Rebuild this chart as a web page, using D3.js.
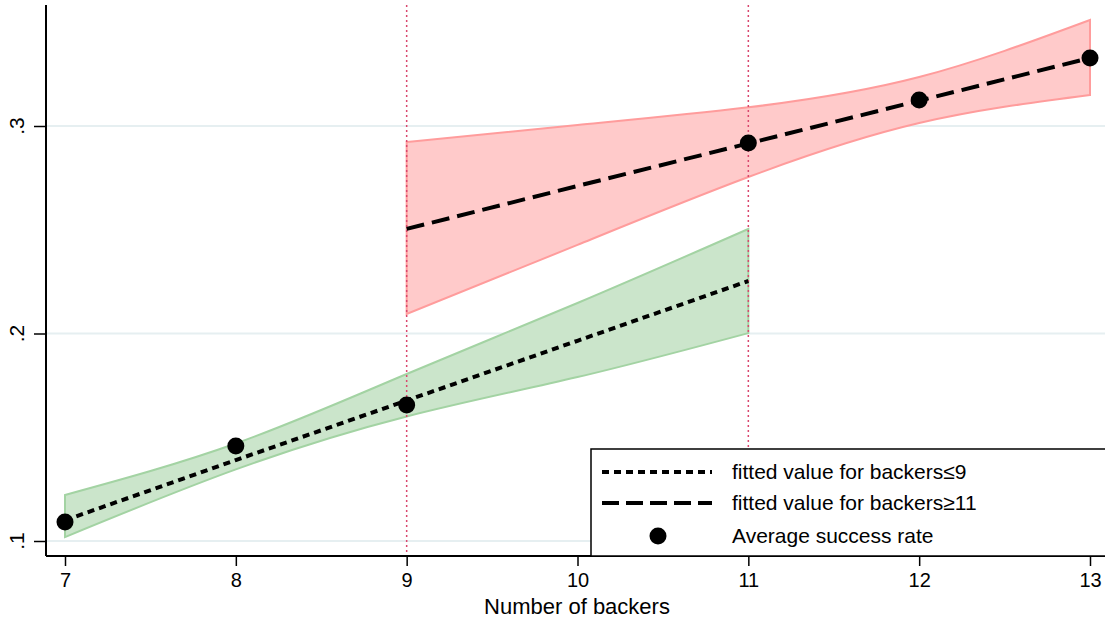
<!DOCTYPE html>
<html>
<head>
<meta charset="utf-8">
<script src="https://cdn.jsdelivr.net/npm/d3@7"></script>
<style>
  body { margin: 0; background: #fff; }
  svg { display: block; font-family: "Liberation Sans", Arial, sans-serif; }
</style>
</head>
<body>
<div id="chart"></div>
<script>
// average success rate by number of backers
const pointX = [7, 8, 9, 11, 12, 13]
const pointY = [0.1092, 0.1458, 0.1655, 0.2918, 0.3125, 0.3328]

// fit for backers <= 9 (drawn 7..11) with CI
const lowX = [7, 8, 9, 10, 11]
const lowFit = [0.1100, 0.1390, 0.1677, 0.1965, 0.2253]
const lowUpper = [0.1222, 0.1470, 0.1805, 0.2147, 0.2504]
const lowLower = [0.1019, 0.1345, 0.1600, 0.1790, 0.2002]

// fit for backers >= 11 (drawn 9..13) with CI
const highX = [9, 10, 11, 12, 13]
const highFit = [0.2504, 0.2711, 0.2916, 0.3122, 0.3328]
const highUpper = [0.2923, 0.3005, 0.3090, 0.3236, 0.3511]
const highLower = [0.2094, 0.2427, 0.2754, 0.3014, 0.3149]

const xTicks = [7, 8, 9, 10, 11, 12, 13]
const yTicks = [0.1, 0.2, 0.3]
const yTickLabels = ['.1', '.2', '.3']
const cutoffs = [9, 11]
const legendLabels = ['fitted value for backers≤9', 'fitted value for backers≥11', 'Average success rate']

const W = 1105, H = 622
const pLeft = 46, pTop = 5, pBottom = 556, pRight = 1105

let x = d3.scaleLinear().domain([7, 13]).range([65, 1090])
let y = d3.scaleLinear().domain([0.1, 0.3]).range([541, 126])

let svg = d3.select('#chart').append('svg')
  .attr('width', W).attr('height', H)

// grid
svg.append('g').selectAll('line').data(yTicks).enter().append('line')
  .attr('x1', pLeft).attr('x2', pRight)
  .attr('y1', d => y(d)).attr('y2', d => y(d))
  .attr('stroke', '#e6eff1').attr('stroke-width', 2)

let area = (xs, lo, hi) => d3.area()
  .x((d, i) => x(xs[i]))
  .y0((d, i) => y(lo[i]))
  .y1((d, i) => y(hi[i]))
  .curve(d3.curveNatural)(xs)

// CI bands
svg.append('path').attr('d', area(lowX, lowLower, lowUpper))
  .attr('fill', '#cbe5cb').attr('stroke', '#a3d3a3').attr('stroke-width', 2)
svg.append('path').attr('d', area(highX, highLower, highUpper))
  .attr('fill', '#ffcaca').attr('stroke', '#ff9c9c').attr('stroke-width', 2)

// cutoff lines
svg.append('g').selectAll('line').data(cutoffs).enter().append('line')
  .attr('x1', d => x(d)).attr('x2', d => x(d))
  .attr('y1', pTop).attr('y2', pBottom)
  .attr('stroke', '#d9476e').attr('stroke-width', 1.5)
  .attr('stroke-dasharray', '2,3')

let line = (xs, ys) => d3.line()
  .x((d, i) => x(xs[i]))
  .y((d, i) => y(ys[i]))(xs)

svg.append('path').attr('d', line(lowX, lowFit))
  .attr('fill', 'none').attr('stroke', '#000').attr('stroke-width', 4)
  .attr('stroke-dasharray', '7,5')
svg.append('path').attr('d', line(highX, highFit))
  .attr('fill', 'none').attr('stroke', '#000').attr('stroke-width', 4)
  .attr('stroke-dasharray', '18,8')

svg.append('g').selectAll('circle').data(pointX).enter().append('circle')
  .attr('cx', d => x(d)).attr('cy', (d, i) => y(pointY[i]))
  .attr('r', 8.5).attr('fill', '#000')

// axes
let xAxis = svg.append('g').attr('transform', `translate(0,${pBottom})`)
  .call(d3.axisBottom(x).tickValues(xTicks).tickFormat(d3.format('d')).tickSize(10).tickPadding(7))
xAxis.select('.domain').remove()
xAxis.selectAll('line').attr('stroke', '#000').attr('stroke-width', 1.5)
xAxis.selectAll('text').attr('font-size', 20).attr('fill', '#000')
  .attr('font-family', '"Liberation Sans", Arial, sans-serif')

let yAxis = svg.append('g').attr('transform', `translate(${pLeft},0)`)
  .call(d3.axisLeft(y).tickValues(yTicks).tickFormat((d, i) => yTickLabels[i]).tickSize(12))
yAxis.select('.domain').remove()
yAxis.selectAll('line').attr('stroke', '#000').attr('stroke-width', 1.5)
yAxis.selectAll('text').remove()
svg.append('g').selectAll('text').data(yTicks).enter().append('text')
  .attr('transform', (d) => `translate(24,${y(d)}) rotate(-90)`)
  .attr('text-anchor', 'middle')
  .attr('font-size', 21)
  .text((d, i) => yTickLabels[i])

svg.append('line').attr('x1', pLeft).attr('x2', pRight).attr('y1', pBottom).attr('y2', pBottom)
  .attr('stroke', '#000').attr('stroke-width', 2)
svg.append('line').attr('x1', pLeft).attr('x2', pLeft).attr('y1', pTop).attr('y2', pBottom)
  .attr('stroke', '#000').attr('stroke-width', 2)

svg.append('text').attr('x', 577).attr('y', 614).attr('text-anchor', 'middle')
  .attr('font-size', 22).text('Number of backers')

// legend
let lg = svg.append('g')
lg.append('rect').attr('x', 591).attr('y', 449).attr('width', 530).attr('height', 107)
  .attr('fill', '#fff').attr('stroke', '#000').attr('stroke-width', 1.5)
let rowY = [472, 503, 536]
lg.append('line').attr('x1', 602).attr('x2', 712).attr('y1', rowY[0]).attr('y2', rowY[0])
  .attr('stroke', '#000').attr('stroke-width', 4).attr('stroke-dasharray', '7,5')
lg.append('line').attr('x1', 602).attr('x2', 712).attr('y1', rowY[1]).attr('y2', rowY[1])
  .attr('stroke', '#000').attr('stroke-width', 4).attr('stroke-dasharray', '17,7')
lg.append('circle').attr('cx', 658).attr('cy', rowY[2]).attr('r', 8.5).attr('fill', '#000')
lg.selectAll('text').data(legendLabels).enter().append('text')
  .attr('x', 732).attr('y', (d, i) => rowY[i]).attr('dy', '0.35em')
  .attr('font-size', 21).text(d => d)
</script>
</body>
</html>
